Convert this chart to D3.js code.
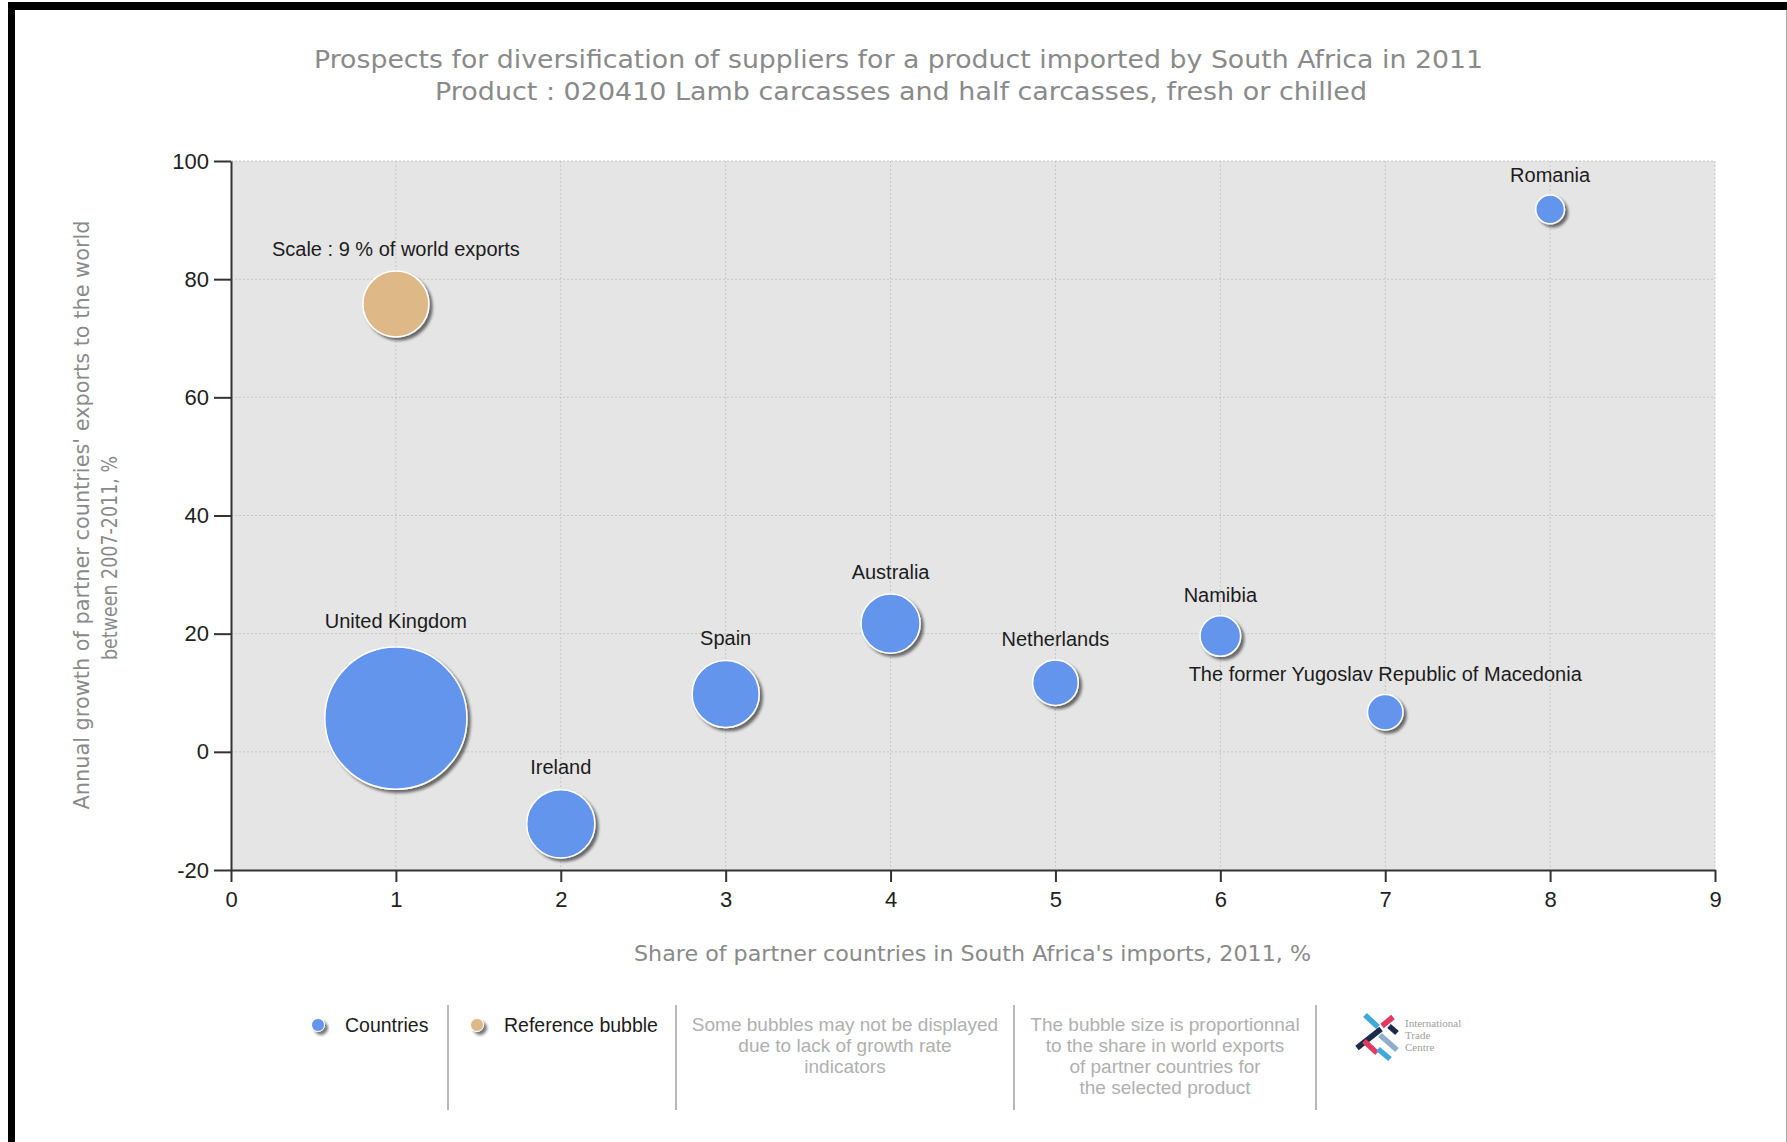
<!DOCTYPE html>
<html>
<head>
<meta charset="utf-8">
<script src="https://cdn.jsdelivr.net/npm/d3@7"></script>
<style>
	body { margin: 0; background: #fff; }
	svg { display: block; }
</style>
</head>
<body>
<svg id="chart" width="1787" height="1142"></svg>
<script>

/* bubble chart: diversification of suppliers */

const countries = ["United Kingdom", "Ireland", "Spain", "Australia", "Netherlands", "Namibia", "The former Yugoslav Republic of Macedonia", "Romania"];
const importShare = [1, 2, 3, 4, 5, 6, 7, 8];
const growthRate = [5.7, -12.2, 9.8, 21.7, 11.7, 19.6, 6.7, 91.8];
const worldShare = [41.7, 9.6, 9.3, 7.2, 4.3, 3.4, 2.6, 1.7];

const refBubble = {label: "Scale : 9 % of world exports", x: 1, y: 75.8, share: 9};

const xTicks = [0, 1, 2, 3, 4, 5, 6, 7, 8, 9];
const yTicks = [-20, 0, 20, 40, 60, 80, 100];

const titleLines = [
	"Prospects for diversification of suppliers for a product imported by South Africa in 2011",
	"Product : 020410 Lamb carcasses and half carcasses, fresh or chilled"
];
const xTitle = "Share of partner countries in South Africa's imports, 2011, %";
const yTitleLines = ["Annual growth of partner countries' exports to the world", "between 2007-2011, %"];
const noteMissing = ["Some bubbles may not be displayed", "due to lack of growth rate", "indicators"];
const noteSize = ["The bubble size is proportionnal", "to the share in world exports", "of partner countries for", "the selected product"];

const blue = "#6495ed";
const tan = "#deb887";
const sans = "'Liberation Sans', Arial, sans-serif";
const titleFont = "'DejaVu Sans', Verdana, sans-serif";

const svg = d3.select("#chart");
const plot = {left: 231, right: 1715, top: 161, bottom: 870};

const x = d3.scaleLinear().domain([0, 9]).range([plot.left, plot.right]);
const y = d3.scaleLinear().domain([-20, 100]).range([plot.bottom, plot.top]);
const r = d3.scaleSqrt().domain([0, 9]).range([0, 33]);

// shadow under bubbles
const shadow = svg.append("defs").append("filter").attr("id", "shadow")
	.attr("x", "-30%").attr("y", "-30%").attr("width", "170%").attr("height", "170%");
shadow.append("feGaussianBlur").attr("in", "SourceAlpha").attr("stdDeviation", 1.6).attr("result", "blur");
shadow.append("feOffset").attr("in", "blur").attr("dx", 3).attr("dy", 3).attr("result", "off");
shadow.append("feComponentTransfer").attr("in", "off").attr("result", "soft")
	.append("feFuncA").attr("type", "linear").attr("slope", 0.55);
const merge = shadow.append("feMerge");
merge.append("feMergeNode").attr("in", "soft");
merge.append("feMergeNode").attr("in", "SourceGraphic");

// frame
svg.append("rect").attr("x", 8).attr("y", 2).attr("width", 1779).attr("height", 8).attr("fill", "#000");
svg.append("rect").attr("x", 8).attr("y", 2).attr("width", 7).attr("height", 1140).attr("fill", "#000");
svg.append("line").attr("x1", 1786.5).attr("x2", 1786.5).attr("y1", 10).attr("y2", 1142)
	.attr("stroke", "#aaa").attr("stroke-width", 1);

// titles
svg.selectAll("text.title").data(titleLines).join("text")
	.attr("class", "title")
	.attr("x", (d, i) => i ? 435 : 314)
	.attr("y", (d, i) => i ? 100 : 68)
	.attr("textLength", (d, i) => i ? 932 : 1169)
	.attr("lengthAdjust", "spacingAndGlyphs")
	.attr("font-family", titleFont).attr("font-size", 25).attr("fill", "#8a8a8a")
	.text(d => d);

// plot background and grid
svg.append("rect")
	.attr("x", plot.left).attr("y", plot.top)
	.attr("width", plot.right - plot.left).attr("height", plot.bottom - plot.top)
	.attr("fill", "#e5e5e5");

svg.append("g").selectAll("line").data(xTicks.slice(1)).join("line")
	.attr("x1", d => x(d)).attr("x2", d => x(d))
	.attr("y1", plot.top).attr("y2", plot.bottom)
	.attr("stroke", "#c6c6c6").attr("stroke-dasharray", "2,2");
svg.append("g").selectAll("line").data(yTicks.slice(1)).join("line")
	.attr("x1", plot.left).attr("x2", plot.right)
	.attr("y1", d => y(d)).attr("y2", d => y(d))
	.attr("stroke", "#c6c6c6").attr("stroke-dasharray", "2,2");

// axes
const yAxis = svg.append("g")
	.attr("transform", `translate(${plot.left},0)`)
	.call(d3.axisLeft(y).tickValues(yTicks).tickSize(17).tickSizeOuter(0).tickPadding(5).tickFormat(d => String(d)));
const xAxis = svg.append("g")
	.attr("transform", `translate(0,${plot.bottom})`)
	.call(d3.axisBottom(x).tickValues(xTicks).tickSize(12).tickSizeOuter(0).tickPadding(9).tickFormat(d => String(d)));

[xAxis, yAxis].forEach(a => {
	a.select(".domain").attr("stroke", "#333").attr("stroke-width", 2);
	a.selectAll(".tick line").attr("stroke", "#333").attr("stroke-width", 2);
	a.selectAll(".tick text").attr("font-family", sans).attr("font-size", 22).attr("fill", "#222");
});

// axis titles
svg.append("text")
	.attr("x", 634).attr("y", 961)
	.attr("textLength", 677).attr("lengthAdjust", "spacingAndGlyphs")
	.attr("font-family", titleFont).attr("font-size", 21).attr("fill", "#8a8a8a")
	.text(xTitle);

svg.selectAll("text.ytitle").data(yTitleLines).join("text")
	.attr("class", "ytitle")
	.attr("transform", (d, i) => i ? "translate(117,558) rotate(-90)" : "translate(89,515) rotate(-90)")
	.attr("text-anchor", "middle")
	.attr("textLength", (d, i) => i ? 204 : 589)
	.attr("lengthAdjust", "spacingAndGlyphs")
	.attr("font-family", titleFont).attr("font-size", 21).attr("fill", "#8a8a8a")
	.text(d => d);

// bubbles
const points = countries.map((c, i) => ({name: c, x: importShare[i], y: growthRate[i], share: worldShare[i], color: blue}));
points.push({name: refBubble.label, x: refBubble.x, y: refBubble.y, share: refBubble.share, color: tan});

const bubbles = svg.append("g").selectAll("g").data(points).join("g");
bubbles.append("circle")
	.attr("cx", d => x(d.x)).attr("cy", d => y(d.y)).attr("r", d => r(d.share))
	.attr("fill", d => d.color)
	.attr("stroke", "#fff").attr("stroke-width", 1.5)
	.attr("filter", "url(#shadow)");
bubbles.append("text")
	.attr("x", d => x(d.x))
	.attr("y", d => y(d.y) - r(d.share) * 1.1 - 12)
	.attr("text-anchor", "middle")
	.attr("font-family", sans).attr("font-size", 20).attr("fill", "#1c1c1c")
	.text(d => d.name);

// legend
const legend = svg.append("g");
[{label: "Countries", color: blue, cx: 318, tx: 345}, {label: "Reference bubble", color: tan, cx: 477, tx: 504}].forEach(it => {
	legend.append("circle").attr("cx", it.cx).attr("cy", 1025).attr("r", 6.5)
		.attr("fill", it.color).attr("stroke", "#fff").attr("filter", "url(#shadow)");
	legend.append("text").attr("x", it.tx).attr("y", 1032)
		.attr("font-family", sans).attr("font-size", 19.5).attr("fill", "#1c1c1c")
		.text(it.label);
});

legend.selectAll("line").data([448, 676, 1014, 1316]).join("line")
	.attr("x1", d => d).attr("x2", d => d).attr("y1", 1005).attr("y2", 1110)
	.attr("stroke", "#a0a0a0").attr("stroke-width", 1.5);

[[noteMissing, 845], [noteSize, 1165]].forEach(([lines, cx]) => {
	legend.append("g").selectAll("text").data(lines).join("text")
		.attr("x", cx).attr("y", (d, i) => 1031 + i * 21)
		.attr("text-anchor", "middle")
		.attr("font-family", sans).attr("font-size", 19).attr("fill", "#b0b0b0")
		.text(d => d);
});

// ITC logo
const logo = legend.append("g").attr("stroke-width", 5.5).attr("stroke-linecap", "butt");
[
	["#3fa9dc", 1365, 1015, 1378, 1027],
	["#e23a5e", 1382, 1026, 1393, 1017],
	["#1c2b4a", 1389, 1026, 1397, 1033],
	["#1c2b4a", 1357, 1048, 1381, 1029],
	["#8eaecb", 1380, 1035, 1397, 1050],
	["#e23a5e", 1364, 1041, 1377, 1053],
	["#3fa9dc", 1378, 1049, 1390, 1059]
].forEach(([c, x1, y1, x2, y2]) => {
	logo.append("line").attr("x1", x1).attr("y1", y1).attr("x2", x2).attr("y2", y2).attr("stroke", c);
});
legend.append("g").selectAll("text").data(["International", "Trade", "Centre"]).join("text")
	.attr("x", 1405).attr("y", (d, i) => 1027 + i * 12)
	.attr("font-family", "'Liberation Serif', serif").attr("font-size", 11).attr("fill", "#a0a0a0")
	.text(d => d);

</script>
</body>
</html>
